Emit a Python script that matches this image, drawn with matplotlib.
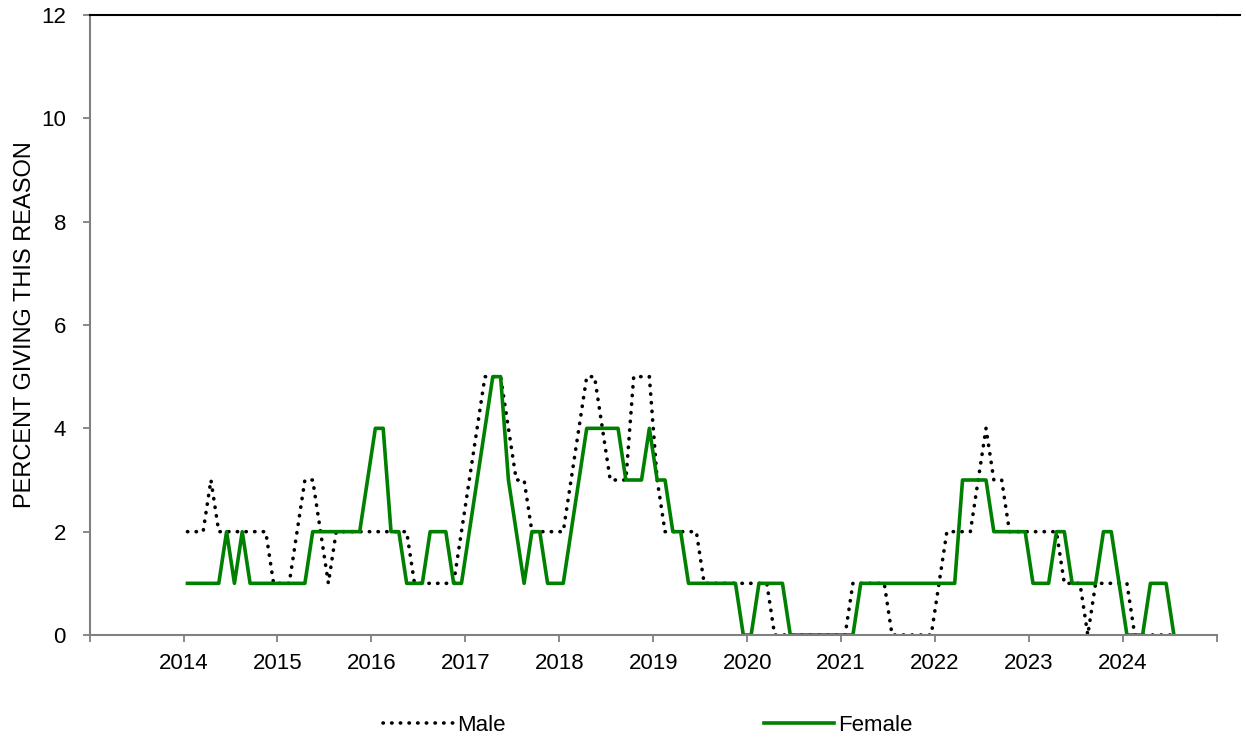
import numpy as np
import matplotlib
matplotlib.use("Agg")
import matplotlib.pyplot as plt
from matplotlib.lines import Line2D

plt.rcParams["font.family"] = ["Liberation Sans", "DejaVu Sans"]

# monthly series, Jan 2014 .. Jul 2024
male = [2, 2, 2, 3, 2, 2, 2, 2, 2, 2, 2, 1, 1, 1, 2, 3, 3, 2, 1, 2,
        2, 2, 2, 2, 2, 2, 2, 2, 2, 1, 1, 1, 1, 1, 1, 2, 3, 4, 5, 5,
        5, 4, 3, 3, 2, 2, 2, 2, 2, 3, 4, 5, 5, 4, 3, 3, 3, 5, 5, 5,
        3, 2, 2, 2, 2, 2, 1, 1, 1, 1, 1, 1, 1, 1, 1, 0, 0, 0, 0, 0,
        0, 0, 0, 0, 0, 1, 1, 1, 1, 1, 0, 0, 0, 0, 0, 0, 1, 2, 2, 2,
        2, 3, 4, 3, 3, 2, 2, 2, 2, 2, 2, 2, 1, 1, 1, 0, 1, 1, 1, 1,
        1, 0, 0, 0, 0, 0, 0]
female = [1, 1, 1, 1, 1, 2, 1, 2, 1, 1, 1, 1, 1, 1, 1, 1, 2, 2, 2, 2,
          2, 2, 2, 3, 4, 4, 2, 2, 1, 1, 1, 2, 2, 2, 1, 1, 2, 3, 4, 5,
          5, 3, 2, 1, 2, 2, 1, 1, 1, 2, 3, 4, 4, 4, 4, 4, 3, 3, 3, 4,
          3, 3, 2, 2, 1, 1, 1, 1, 1, 1, 1, 0, 0, 1, 1, 1, 1, 0, 0, 0,
          0, 0, 0, 0, 0, 0, 1, 1, 1, 1, 1, 1, 1, 1, 1, 1, 1, 1, 1, 3,
          3, 3, 3, 2, 2, 2, 2, 2, 1, 1, 1, 2, 2, 1, 1, 1, 1, 2, 2, 1,
          0, 0, 0, 1, 1, 1, 0]
start_year = 2014
years = list(range(2013, 2026))
year_labels = [str(y) if 2014 <= y <= 2024 else "" for y in years]

months = np.arange(len(female))
x = start_year + (months + 0.5) / 12.0

fig = plt.figure(figsize=(12.46, 7.42), dpi=100)
ax = fig.add_axes([0.0719, 0.1442, 0.9048, 0.8356])

ax.plot(x, male, color="black", lw=2.6, linestyle=(0, (0.1, 2.3)),
        dash_capstyle="round", label="Male")
ax.plot(x, female, color="#008000", lw=2.6, label="Female")

ax.set_xlim(2013, 2025)
ax.set_ylim(0, 12)
ax.set_xticks(years)
ax.set_xticklabels(year_labels)
ax.set_yticks(range(0, 13, 2))
ax.tick_params(axis="both", colors="#808080", labelcolor="black",
               labelsize=16, width=1.3, length=5, direction="out")
ax.tick_params(axis="y", pad=12)
ax.tick_params(axis="x", pad=8)

ax.spines["right"].set_visible(False)
ax.spines["left"].set_color("#808080")
ax.spines["bottom"].set_color("#808080")
ax.spines["left"].set_linewidth(1.5)
ax.spines["bottom"].set_linewidth(1.5)
ax.spines["top"].set_color("black")
ax.spines["top"].set_linewidth(1.5)
# top border runs a little past the plot area
ax.add_line(Line2D([2025, 2025.25], [12, 12], color="black", lw=1.5,
                   clip_on=False))

ax.set_ylabel("PERCENT GIVING THIS REASON", fontsize=17, labelpad=4)

fig.legend(loc="center", bbox_to_anchor=(0.52, 0.022), ncol=2, frameon=False,
           fontsize=16, handlelength=3.15, columnspacing=11.6, handletextpad=0.2)

fig.savefig("out.png", dpi=100)
